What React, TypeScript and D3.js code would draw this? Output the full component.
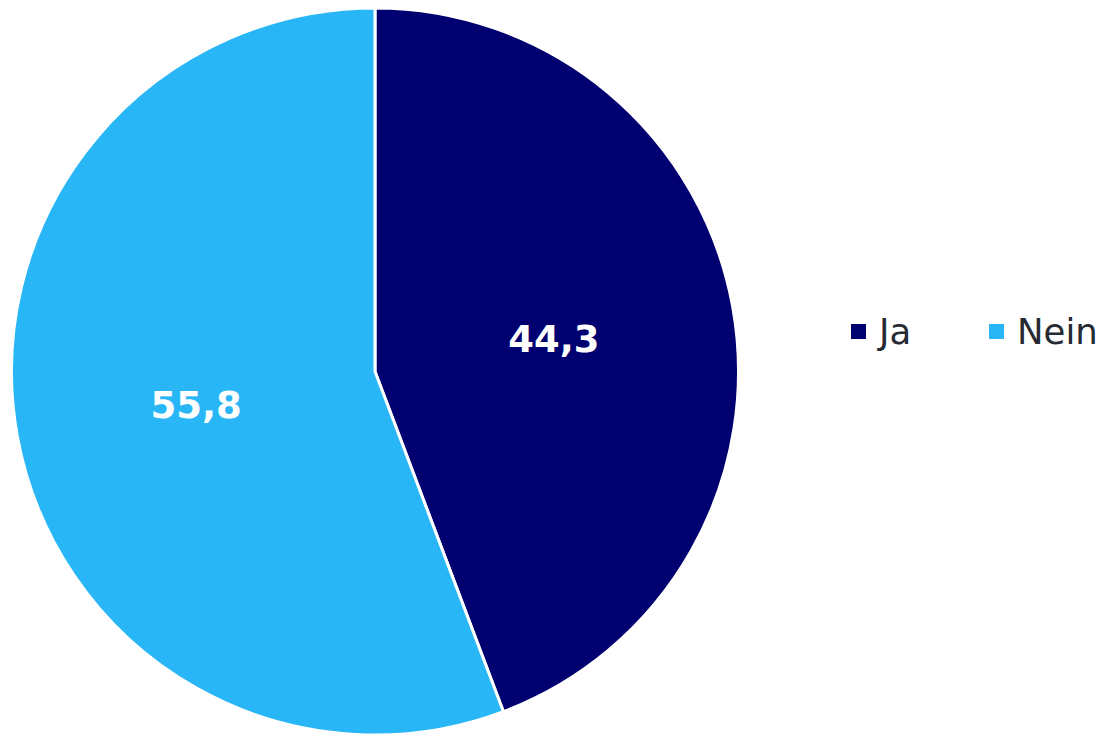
import React from "react";
import * as d3 from "d3";

const categories = ["Ja", "Nein"];
const values = [44.3, 55.8];
const labels = ["44,3", "55,8"];
const colors = ["#000070", "#29B6F6"];

const W = 1104;
const H = 734;
const CX = 375;
const CY = 371.5;
const R = 363.5;

export default function App() {
  const pie = d3.pie<number>().sort(null).value((d) => d);
  const arcs = pie(values);
  const arcGen = d3.arc<d3.PieArcDatum<number>>().innerRadius(0).outerRadius(R);
  const labelArc = d3.arc<d3.PieArcDatum<number>>().innerRadius(R / 2).outerRadius(R / 2);

  const legendX = [851, 989];
  return (
    <svg
      width={W}
      height={H}
      style={{ position: "absolute", left: 0, top: 0, fontFamily: "'DejaVu Sans', Verdana, sans-serif" }}
    >
      <rect width={W} height={H} fill="#fff" />
      <g transform={`translate(${CX},${CY})`}>
        {arcs.map((a, i) => (
          <path key={i} d={arcGen(a) || ""} fill={colors[i]} stroke="#fff" strokeWidth={3} strokeLinejoin="round" />
        ))}
        {arcs.map((a, i) => {
          const [x, y] = labelArc.centroid(a);
          return (
            <text
              key={i}
              x={x}
              y={y + 1}
              textAnchor="middle"
              dominantBaseline="central"
              fill="#fff"
              fontWeight="bold"
              fontSize={37}
            >
              {labels[i]}
            </text>
          );
        })}
      </g>
      {categories.map((c, i) => (
        <g key={c}>
          <rect x={legendX[i]} y={324} width={15} height={15} fill={colors[i]} />
          <text x={legendX[i] + 28} y={331.5} dominantBaseline="central" fontSize={35.5} fill="#262a33">
            {c}
          </text>
        </g>
      ))}
    </svg>
  );
}
